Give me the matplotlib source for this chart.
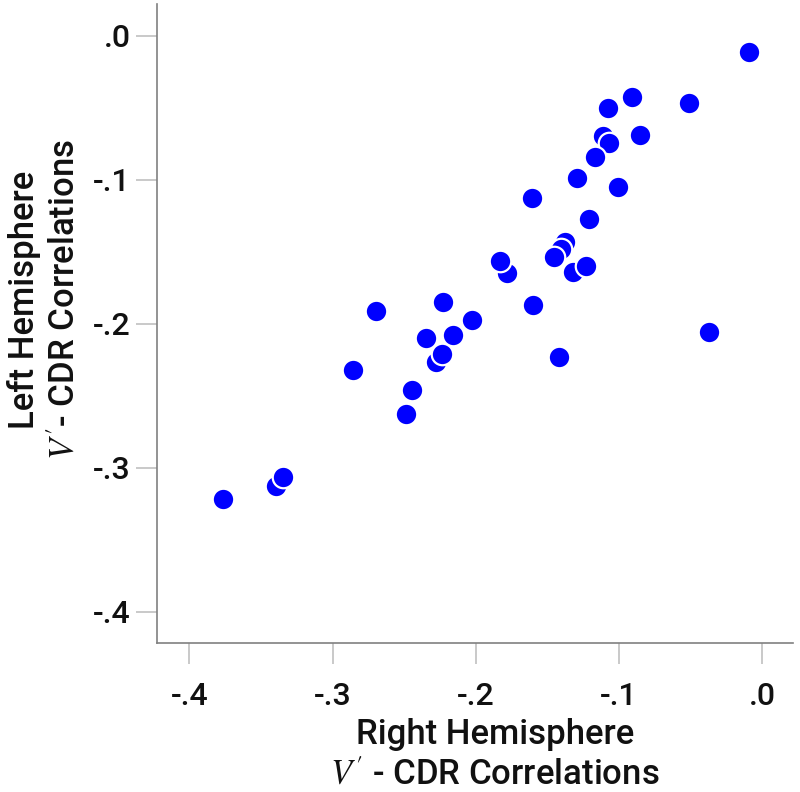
import matplotlib
matplotlib.use("Agg")
import matplotlib.pyplot as plt

# Right hemisphere (x) and left hemisphere (y) V'-CDR correlations
right_hemi = [-0.0089, -0.0510, -0.0910, -0.1078, -0.0850, -0.1108, -0.1068, -0.1168,
              -0.1290, -0.1008, -0.1608, -0.1208, -0.1376, -0.1405, -0.1450, -0.1780,
              -0.1830, -0.1318, -0.1229, -0.1597, -0.1418, -0.2027, -0.2698, -0.2230,
              -0.2346, -0.2156, -0.2277, -0.2237, -0.2858, -0.2446, -0.2488, -0.3766,
              -0.3394, -0.3347, -0.0368]
left_hemi = [-0.0112, -0.0470, -0.0430, -0.0500, -0.0690, -0.0696, -0.0744, -0.0841,
             -0.0991, -0.1050, -0.1130, -0.1274, -0.1431, -0.1480, -0.1540, -0.1647,
             -0.1565, -0.1640, -0.1598, -0.1871, -0.2230, -0.1975, -0.1910, -0.1848,
             -0.2102, -0.2079, -0.2264, -0.2211, -0.2322, -0.2461, -0.2630, -0.3220,
             -0.3127, -0.3067, -0.2058]

ticks = [-0.4, -0.3, -0.2, -0.1, 0.0]
tick_labels = ["-.4", "-.3", "-.2", "-.1", ".0"]

plt.rcParams['mathtext.fontset'] = 'stix'
plt.rcParams['font.family'] = ['Roboto', 'DejaVu Sans']

fig = plt.figure(figsize=(8, 7.92), dpi=100)
ax = fig.add_axes([157/800, 1 - 643/792, (793-157)/800, (643-4)/792])

ax.scatter(right_hemi, left_hemi, s=240, c='#0000FF', edgecolors='white',
           linewidths=1.6, zorder=3)

ax.set_xlim(-0.4226, 0.0216)
ax.set_ylim(-0.4217, 0.0219)
ax.set_xticks(ticks)
ax.set_xticklabels(tick_labels)
ax.set_yticks(ticks)
ax.set_yticklabels(tick_labels)

for s in ['top', 'right']:
    ax.spines[s].set_visible(False)
for s in ['left', 'bottom']:
    ax.spines[s].set_color('#808080')
    ax.spines[s].set_linewidth(1.2)

ax.tick_params(axis='both', length=15, width=1.2, color='#c0c0c0',
               labelsize=23, labelcolor='#111111')
ax.tick_params(axis='x', pad=13)
ax.tick_params(axis='y', pad=4)
for lab in ax.get_xticklabels() + ax.get_yticklabels():
    lab.set_fontweight('medium')

ax.set_xlabel("Right Hemisphere\n$V'$ - CDR Correlations", fontsize=25,
              color='#111111', linespacing=1.3, fontweight='medium')
ax.xaxis.set_label_coords((495-157)/636, 1 - (718-4)/639)
ax.set_ylabel("Left Hemisphere\n$V'$- CDR Correlations", fontsize=25,
              color='#111111', linespacing=1.3, fontweight='medium')
ax.yaxis.set_label_coords((82-157)/636, 1 - (300-4)/639)

fig.savefig("out.png", dpi=100)
